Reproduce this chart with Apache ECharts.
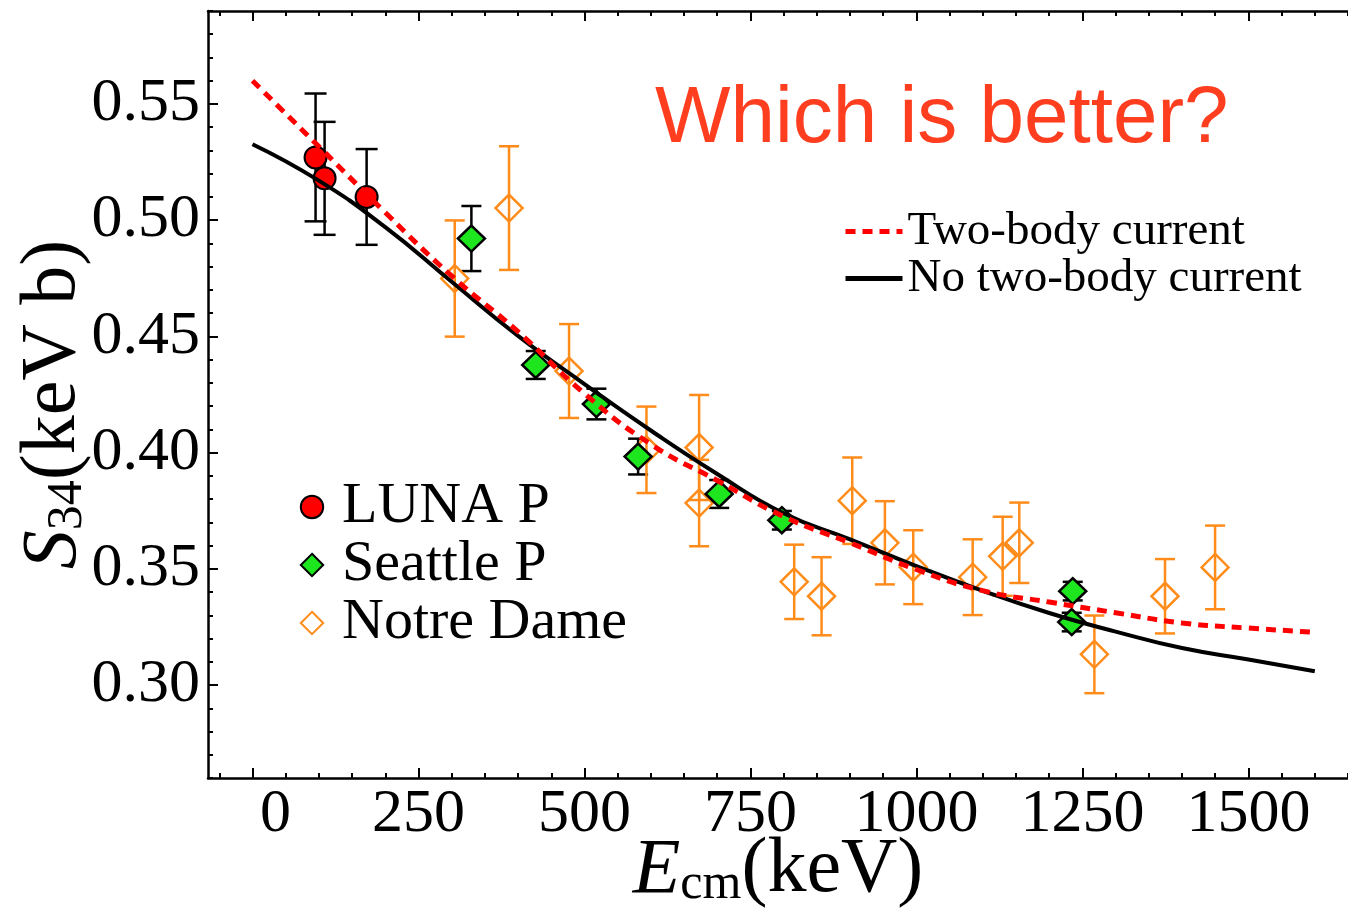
<!DOCTYPE html>
<html>
<head>
<meta charset="utf-8">
<script src="https://cdn.jsdelivr.net/npm/echarts@6.0.0/dist/echarts.min.js"></script>
<style>
html,body{margin:0;padding:0;background:#fff;}
#chart{width:1348px;height:908px;}
</style>
</head>
<body>
<div id="chart"></div>
<script>
// ---- data ----
const xMajorTicks = [0, 250, 500, 750, 1000, 1250, 1500];
const yMajorTicks = [0.30, 0.35, 0.40, 0.45, 0.50, 0.55];

const lunaE   = [95, 108.6, 171.9];
const lunaS   = [0.527, 0.518, 0.510];
const lunaErr = [0.0275, 0.0243, 0.0206];

const seattleE   = [329.7, 426.6, 518, 580.8, 702.9, 797.3, 1235.4, 1233.9];
const seattleS   = [0.4921, 0.4377, 0.4209, 0.3983, 0.3822, 0.3709, 0.3404, 0.3271];
const seattleErr = [0.014, 0.006, 0.0066, 0.0077, 0.006, 0.004, 0.004, 0.004];

const notreE   = [304.6, 386.4, 476.8, 593.4, 672.7, 672.7, 815.9, 857.1, 903.3, 952.5, 995.2, 1084.7, 1129.9, 1154.9, 1268, 1374.4, 1449.8];
const notreS   = [0.4749, 0.5052, 0.4351, 0.4012, 0.4022, 0.3783, 0.3444, 0.3382, 0.3793, 0.3612, 0.3507, 0.3464, 0.3554, 0.3612, 0.3132, 0.3382, 0.3506];
const notreErr = [0.025, 0.0266, 0.0202, 0.0186, 0.0226, 0.0186, 0.016, 0.0168, 0.0186, 0.0179, 0.0159, 0.0163, 0.017, 0.0173, 0.0167, 0.016, 0.018];

const curveE     = [0, 100, 200, 300, 400, 500, 600, 700, 800, 900, 1000, 1100, 1200, 1300, 1400, 1500, 1600];
const twoBody    = [0.5600, 0.5317, 0.5033, 0.4760, 0.4520, 0.4254, 0.4036, 0.3880, 0.3725, 0.3612, 0.3497, 0.3406, 0.3357, 0.3311, 0.3267, 0.3245, 0.3227];
const noTwoBody  = [0.5327, 0.5170, 0.4970, 0.4735, 0.4502, 0.4295, 0.4095, 0.3908, 0.3739, 0.3627, 0.3512, 0.3405, 0.3310, 0.3230, 0.3159, 0.3110, 0.3059];

// ---- build ----
const X_MIN = -67, X_MAX = 1650, Y_MIN = 0.26, Y_MAX = 0.59;
const xMinor = []; for (let v = -50; v <= 1650; v += 50) if (xMajorTicks.indexOf(v) < 0) xMinor.push(v);
const yMinor = []; for (let i = 26; i <= 59; i++) { const v = i / 100; if (i % 5 !== 0) yMinor.push(v); }

const zip3 = (a, b, c) => a.map((v, i) => [v, b[i], c[i]]);
const zip2 = (a, b) => a.map((v, i) => [v, b[i]]);

const serif = 'Liberation Serif';

function errBars(color, width, hw) {
  return function (params, api) {
    const x = api.value(0), y = api.value(1), e = api.value(2);
    const t = api.coord([x, y + e]), b = api.coord([x, y - e]);
    const st = { stroke: color, lineWidth: width };
    return { type: 'group', children: [
      { type: 'line', shape: { x1: t[0], y1: t[1], x2: b[0], y2: b[1] }, style: st },
      { type: 'line', shape: { x1: t[0] - hw, y1: t[1], x2: t[0] + hw, y2: t[1] }, style: st },
      { type: 'line', shape: { x1: b[0] - hw, y1: b[1], x2: b[0] + hw, y2: b[1] }, style: st }
    ]};
  };
}

function xAx(pos, major, showLine) {
  return {
    type: 'value', position: pos, min: X_MIN, max: X_MAX,
    axisLine: { show: showLine, onZero: false, lineStyle: { color: '#000', width: 2.5 } },
    axisTick: { show: true, inside: true, length: major ? 10 : 5, customValues: major ? xMajorTicks : xMinor, lineStyle: { color: '#000', width: 2 } },
    axisLabel: { show: false },
    splitLine: { show: false }
  };
}

const titleRich = {
  i: { fontFamily: serif, fontStyle: 'italic', fontSize: 78, color: '#000', lineHeight: 78 },
  s: { fontFamily: serif, fontSize: 50, color: '#000', lineHeight: 18, verticalAlign: 'bottom' },
  n: { fontFamily: serif, fontSize: 78, color: '#000', lineHeight: 78 }
};

const orange = '#ff8c1a';
const hideSym = { color: 'rgba(0,0,0,0)', borderWidth: 0, opacity: 0 };
const option = {
  animation: false,
  backgroundColor: '#fff',
  title: {
    text: 'Which is better?', left: 650, top: 75,
    textStyle: { fontFamily: 'Liberation Sans', fontWeight: 'normal', fontSize: 80, color: '#ff3d1f' }
  },
  grid: { left: 208, right: 0, top: 11, bottom: 130, outerBoundsMode: 'none', containLabel: false },
  legend: [
    {
      data: ['LUNA P', 'Seattle P', 'Notre Dame'],
      orient: 'vertical', left: 282, top: 473, itemGap: 0,
      itemWidth: 50, itemHeight: 28,
      textStyle: { fontFamily: serif, fontSize: 58, color: '#000', lineHeight: 54 },
      selectedMode: false
    },
    {
      data: [
        { name: 'Two-body current', itemStyle: hideSym },
        { name: 'No two-body current', itemStyle: hideSym }
      ],
      orient: 'vertical', left: 838, top: 203, itemGap: 0,
      itemWidth: 57, itemHeight: 20,
      lineStyle: { width: 5 },
      textStyle: { fontFamily: serif, fontSize: 47, color: '#000', lineHeight: 45 },
      selectedMode: false
    }
  ],
  xAxis: [
    Object.assign(xAx('bottom', true, true), {
      name: '{i|E}{s|cm}{n|(keV)}', nameLocation: 'middle', nameGap: 54, nameMoveOverlap: false,
      nameTextStyle: { rich: titleRich },
      axisLabel: {
        show: true, customValues: xMajorTicks, margin: 6, color: '#000',
        fontFamily: serif, fontSize: 62,
        formatter: v => v === 0 ? '{z|0}' : String(v),
        rich: { z: { padding: [0, 0, 0, 46], fontFamily: serif, fontSize: 62, color: '#000' } }
      }
    }),
    xAx('bottom', false, false),
    xAx('top', true, true),
    xAx('top', false, false)
  ],
  yAxis: [
    {
      type: 'value', position: 'left', min: Y_MIN, max: Y_MAX,
      axisLine: { show: true, onZero: false, lineStyle: { color: '#000', width: 2.5 } },
      axisTick: { show: true, inside: true, length: 10, customValues: yMajorTicks, lineStyle: { color: '#000', width: 2 } },
      axisLabel: { show: true, customValues: yMajorTicks, margin: 8, color: '#000', fontFamily: serif, fontSize: 62,
        formatter: v => v.toFixed(2) },
      splitLine: { show: false },
      name: '{i|S}{s|34}{n|(keV b)}', nameLocation: 'middle', nameGap: 115, nameRotate: 90, nameMoveOverlap: false,
      nameTextStyle: { rich: titleRich, padding: [0, 20, 0, 0] }
    },
    {
      type: 'value', position: 'left', min: Y_MIN, max: Y_MAX,
      axisLine: { show: false, onZero: false },
      axisTick: { show: true, inside: true, length: 5, customValues: yMinor, lineStyle: { color: '#000', width: 2 } },
      axisLabel: { show: false }, splitLine: { show: false }
    }
  ],
  series: [
    { name: 'LUNA err', type: 'custom', z: 2, renderItem: errBars('#000', 2.5, 11), data: zip3(lunaE, lunaS, lunaErr), silent: true },
    { name: 'Seattle err', type: 'custom', z: 2, renderItem: errBars('#000', 2.5, 10), data: zip3(seattleE, seattleS, seattleErr), silent: true },
    { name: 'Notre err', type: 'custom', z: 2, renderItem: errBars(orange, 2.5, 10), data: zip3(notreE, notreS, notreErr), silent: true },
    {
      name: 'Notre Dame', type: 'line', z: 3, data: zip2(notreE, notreS),
      symbol: 'diamond', symbolSize: 27, showSymbol: true,
      lineStyle: { opacity: 0, width: 0 },
      itemStyle: { color: 'rgba(255,255,255,0)', borderColor: orange, borderWidth: 2.5 }
    },
    {
      name: 'Seattle P', type: 'line', z: 3, data: zip2(seattleE, seattleS),
      symbol: 'diamond', symbolSize: [27, 26], showSymbol: true,
      lineStyle: { opacity: 0, width: 0 },
      itemStyle: { color: '#1ee61e', borderColor: '#000', borderWidth: 2.5 }
    },
    {
      name: 'LUNA P', type: 'line', z: 3, data: zip2(lunaE, lunaS),
      symbol: 'circle', symbolSize: 22, showSymbol: true,
      lineStyle: { opacity: 0, width: 0 },
      itemStyle: { color: '#ff0000', borderColor: '#000', borderWidth: 2 }
    },
    {
      name: 'No two-body current', type: 'line', z: 4, data: zip2(curveE, noTwoBody),
      smooth: 0.5, symbol: 'none',
      lineStyle: { color: '#000', width: 4 }, itemStyle: { color: '#000' }
    },
    {
      name: 'Two-body current', type: 'line', z: 5, data: zip2(curveE, twoBody),
      smooth: 0.5, symbol: 'none',
      lineStyle: { color: '#ff0000', width: 5, type: [10, 7] }, itemStyle: { color: '#ff0000' }
    }
  ]
};

const chart = echarts.init(document.getElementById('chart'), null, { renderer: 'canvas' });
chart.setOption(option);
</script>
</body>
</html>
